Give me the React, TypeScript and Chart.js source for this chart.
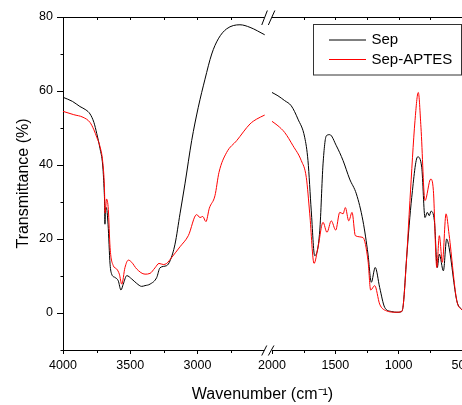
import { useEffect, useRef } from "react";
import { Chart, registerables } from "chart.js";

Chart.register(...registerables);

// ---------- data (wavenumber in cm-1, transmittance in %) ----------
const sepLeftWn = [4000, 3930, 3874, 3830, 3799, 3770, 3749, 3725, 3705, 3695, 3690, 3688, 3685, 3678, 3665, 3650, 3638, 3613, 3589, 3569, 3552, 3526, 3489, 3452, 3415, 3390, 3353, 3303, 3279, 3229, 3204, 3167, 3130, 3093, 3043, 2994, 2944, 2894, 2845, 2783, 2684, 2609, 2500];
const sepLeftT = [58.3, 57.2, 55.8, 54.9, 53.8, 51.5, 48.5, 44.5, 40, 34, 29, 24, 28, 28.5, 24, 13.2, 10.5, 9.6, 8.7, 6.2, 7.8, 10.1, 9.2, 8.0, 7.2, 7.4, 7.8, 9.6, 12.2, 12.8, 14.1, 18.6, 26.8, 34.9, 46.6, 55.6, 63.2, 70, 74.1, 76.8, 77.9, 77.2, 75.2];

const sepRightWn = [2000, 1953, 1900, 1848, 1795, 1742, 1716, 1690, 1663, 1623, 1597, 1571, 1544, 1492, 1439, 1387, 1334, 1282, 1242, 1216, 1185, 1150, 1110, 1058, 1005, 976, 963, 937, 897, 850, 818, 792, 774, 758, 745, 718, 695, 679, 647, 621, 602, 541, 500];
const sepRightT = [59.6, 58.7, 57.4, 56.0, 52.4, 47.5, 41.2, 27.6, 15.5, 22.2, 40.3, 47.9, 48.2, 45.2, 41.2, 36.2, 32.2, 24.9, 15.9, 8.3, 12.3, 6.9, 1.5, 0.4, 0.2, 0.4, 2.4, 15, 31.2, 42.2, 39.4, 25.8, 27.2, 26.3, 27.5, 24.9, 12.3, 15.9, 11.4, 20.0, 17.7, 3.3, 0.8];

const aptesLeftWn = [4000, 3920, 3851, 3799, 3770, 3749, 3725, 3705, 3692, 3687, 3676, 3663, 3650, 3626, 3601, 3581, 3563, 3539, 3514, 3489, 3452, 3390, 3353, 3316, 3286, 3254, 3229, 3192, 3130, 3068, 3006, 2981, 2961, 2937, 2912, 2870, 2840, 2783, 2708, 2609, 2560, 2500];
const aptesLeftT = [54.5, 53.6, 52.9, 51.5, 49.5, 47.5, 45, 41, 34, 27, 30.8, 28, 17.7, 12.8, 11.9, 10.5, 7.8, 12.3, 14.3, 13.7, 11.9, 10.5, 10.7, 12.2, 13.4, 13.1, 13.4, 15.0, 17.9, 20.9, 26.6, 25.8, 26.1, 24.7, 28.3, 31.7, 38.0, 43.4, 46.6, 51.1, 52.4, 53.5];

const aptesRightWn = [2000, 1953, 1900, 1834, 1769, 1729, 1702, 1668, 1637, 1597, 1566, 1532, 1497, 1465, 1439, 1421, 1394, 1368, 1342, 1282, 1242, 1221, 1189, 1150, 1098, 1019, 976, 963, 937, 911, 871, 845, 824, 792, 747, 726, 699, 679, 655, 626, 602, 541, 500];
const aptesRightT = [51.8, 50.6, 48.8, 45.2, 41.2, 36.6, 26.8, 13.4, 17.7, 24.5, 21.8, 24.9, 22.4, 27.2, 26.8, 28.5, 24.9, 27.2, 20.9, 20.4, 14.1, 6.2, 7.4, 2.4, 0.6, 0.2, 0.4, 2.4, 15, 30.4, 52, 59.6, 50.2, 30.4, 36.2, 33.1, 12.3, 20.9, 13.7, 26.8, 21.2, 3.3, 0.8];

const seriesLabels = ["Sep", "Sep-APTES"];
const xMajorTicks = [4000, 3500, 3000, 2000, 1500, 1000, 500];
const xMinorTicks = [3750, 3250, 2750, 1750, 1250, 750];
const xTopTicks = [3750, 3500, 3250, 3000, 2750, 1750, 1500, 1250, 1000, 750];
const yMinorTicks = [-10, 10, 30, 50, 70];

// ---------- broken axis mapping ----------
const LEFT_START = 4000, LEFT_END = 2500, RIGHT_START = 2000, RIGHT_END = 500;
const LEFT_SPAN = 201.7, GAP_SPAN = 7.3, RIGHT_SPAN = 190;
const X_MAX = LEFT_SPAN + GAP_SPAN + RIGHT_SPAN;

function toX(wn: number): number {
  if (wn >= (LEFT_END + RIGHT_START) / 2) {
    return ((LEFT_START - wn) * LEFT_SPAN) / (LEFT_START - LEFT_END);
  }
  return LEFT_SPAN + GAP_SPAN + ((RIGHT_START - wn) * RIGHT_SPAN) / (RIGHT_START - RIGHT_END);
}

function buildSeries(lw: number[], lt: number[], rw: number[], rt: number[]) {
  const pts: { x: number; y: number | null }[] = [];
  lw.forEach((w, i) => pts.push({ x: toX(w), y: lt[i] }));
  pts.push({ x: LEFT_SPAN + GAP_SPAN / 2, y: null });
  rw.forEach((w, i) => pts.push({ x: toX(w), y: rt[i] }));
  return pts;
}

const FONT = "'Liberation Sans', Arial, Helvetica, sans-serif";

const decorPlugin = {
  id: "decor",
  afterDraw(chart: any) {
    const { ctx, chartArea } = chart;
    const { left, right, top, bottom } = chartArea;
    const xs = chart.scales.x;
    const ys = chart.scales.y;
    const ax = Math.round(left) + 0.5;
    const by = Math.round(bottom) + 0.5;
    const ty = Math.round(top) + 0.5;
    ctx.save();
    ctx.strokeStyle = "#000";
    ctx.lineWidth = 1;

    // top frame line
    ctx.beginPath();
    ctx.moveTo(left, ty);
    ctx.lineTo(right + 2, ty);
    ctx.stroke();

    // top ticks (inward)
    ctx.beginPath();
    xTopTicks.forEach((w) => {
      const px = Math.round(xs.getPixelForValue(toX(w))) + 0.5;
      ctx.moveTo(px, ty);
      ctx.lineTo(px, ty + 2.5);
    });
    ctx.stroke();

    // x minor ticks (outward)
    ctx.beginPath();
    xMinorTicks.forEach((w) => {
      const px = Math.round(xs.getPixelForValue(toX(w))) + 0.5;
      ctx.moveTo(px, by);
      ctx.lineTo(px, by + 2.5);
    });
    ctx.stroke();

    // y minor ticks (outward)
    ctx.beginPath();
    yMinorTicks.forEach((v) => {
      const py = Math.round(ys.getPixelForValue(v)) + 0.5;
      ctx.moveTo(ax - 3, py);
      ctx.lineTo(ax, py);
    });
    ctx.stroke();

    // axis break marks
    const xb = xs.getPixelForValue(LEFT_SPAN + GAP_SPAN / 2);
    ctx.fillStyle = "#fff";
    ctx.fillRect(xb - 4, by - 1.5, 7.5, 3);
    ctx.fillRect(xb - 4, ty - 1.5, 7.5, 3);
    ctx.beginPath();
    ctx.moveTo(xb - 6.6, by + 5);
    ctx.lineTo(xb - 1.6, by - 5);
    ctx.moveTo(xb, by + 5);
    ctx.lineTo(xb + 5.6, by - 5);
    ctx.moveTo(xb - 6.6, ty + 7.5);
    ctx.lineTo(xb - 1, ty - 7);
    ctx.moveTo(xb, ty + 7.5);
    ctx.lineTo(xb + 6.5, ty - 7);
    ctx.stroke();

    // legend
    const lx = 313.5, ly = 24.5, lw = 148, lh = 50.5;
    ctx.strokeStyle = "#333";
    ctx.strokeRect(lx, ly, lw, lh);
    ctx.font = `15px ${FONT}`;
    ctx.textBaseline = "middle";
    ctx.textAlign = "left";
    const rows = [40, 59.5];
    chart.data.datasets.forEach((ds: any, i: number) => {
      const rowIdx = seriesLabels.indexOf(ds.label);
      const yy = rows[rowIdx];
      ctx.strokeStyle = ds.borderColor;
      ctx.beginPath();
      ctx.moveTo(329, yy);
      ctx.lineTo(366, yy);
      ctx.stroke();
      ctx.fillStyle = "#000";
      ctx.fillText(ds.label, 371.5, yy);
    });
    ctx.restore();
  },
};

export default function App() {
  const ref = useRef<HTMLCanvasElement>(null);

  useEffect(() => {
    if (!ref.current) return;
    Chart.defaults.font.family = FONT;
    Chart.defaults.color = "#000";
    const chart = new Chart(ref.current, {
      type: "line",
      data: {
        datasets: [
          {
            label: seriesLabels[1],
            data: buildSeries(aptesLeftWn, aptesLeftT, aptesRightWn, aptesRightT) as any,
            borderColor: "#ff0000",
            borderWidth: 1,
            pointRadius: 0,
            spanGaps: false,
            cubicInterpolationMode: "monotone",
          },
          {
            label: seriesLabels[0],
            data: buildSeries(sepLeftWn, sepLeftT, sepRightWn, sepRightT) as any,
            borderColor: "#000000",
            borderWidth: 1,
            pointRadius: 0,
            spanGaps: false,
            cubicInterpolationMode: "monotone",
          },
        ],
      },
      options: {
        animation: false,
        responsive: true,
        maintainAspectRatio: false,
        devicePixelRatio: 1,
        layout: { padding: { left: 0, top: 17, right: 58, bottom: 0 } },
        plugins: {
          legend: { display: false },
          tooltip: { enabled: false },
        },
        scales: {
          x: {
            type: "linear",
            min: 0,
            max: X_MAX,
            afterBuildTicks: (scale: any) => {
              scale.ticks = xMajorTicks.map((w) => ({ value: toX(w) }));
            },
            afterFit: (scale: any) => {
              scale.height = 55;
            },
            ticks: {
              autoSkip: false,
              maxRotation: 0,
              padding: 4,
              font: { size: 12.5 },
              color: "#000",
              callback: (_v: any, i: number) => String(xMajorTicks[i]),
            },
            grid: {
              display: true,
              drawOnChartArea: false,
              drawTicks: true,
              tickLength: 4,
              tickColor: "#000",
              tickWidth: 1,
            },
            border: { display: true, color: "#000", width: 1 },
            title: {
              display: true,
              text: "Wavenumber (cm\u207B\u00B9)",
              font: { size: 16 },
              color: "#000",
              padding: { top: 0, bottom: 1 },
            },
          },
          y: {
            min: -10,
            max: 80,
            afterFit: (scale: any) => {
              scale.width = 63;
            },
            ticks: {
              stepSize: 10,
              padding: 4,
              font: { size: 12.5 },
              color: "#000",
              callback: (v: any) => (Number(v) % 20 === 0 ? String(v) : ""),
            },
            grid: {
              display: true,
              drawOnChartArea: false,
              drawTicks: true,
              tickLength: 6,
              tickWidth: 1,
              tickColor: (c: any) => (c.tick && c.tick.value % 20 === 0 ? "#000" : "rgba(0,0,0,0)"),
            },
            border: { display: true, color: "#000", width: 1 },
            title: {
              display: true,
              text: "Transmittance (%)",
              font: { size: 16 },
              color: "#000",
              padding: { top: 14, bottom: 0 },
            },
          },
        },
      },
      plugins: [decorPlugin],
    });
    return () => chart.destroy();
  }, []);

  return (
    <div
      style={{
        position: "absolute",
        left: 0,
        top: 0,
        width: 462,
        height: 405,
        overflow: "hidden",
        background: "#fff",
      }}
    >
      <div style={{ position: "relative", width: 520, height: 405 }}>
        <canvas ref={ref} />
      </div>
    </div>
  );
}
